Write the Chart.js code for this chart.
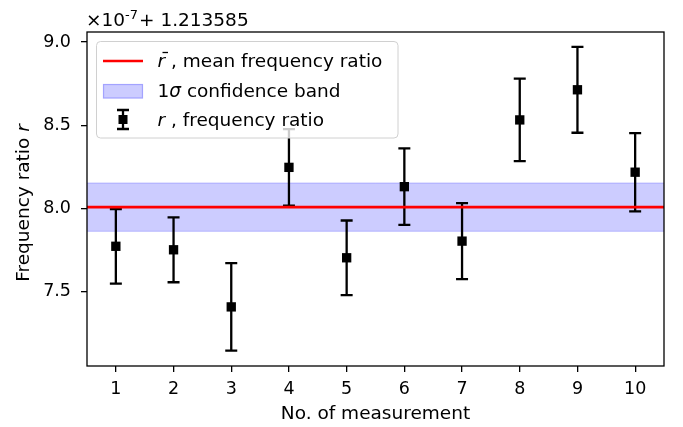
<!DOCTYPE html>
<html>
<head>
<meta charset="utf-8">
<script src="https://cdn.jsdelivr.net/npm/chart.js@4/dist/chart.umd.min.js"></script>
<style>
  html, body { margin: 0; padding: 0; background: #fff; }
  #wrap { width: 683px; height: 427px; position: relative; }
</style>
</head>
<body>
<div id="wrap"><canvas id="ratioChart" width="683" height="427"></canvas></div>
<script>
    // measurement data (offset: x1e-7 + 1.213585)
    const measurements = [1, 2, 3, 4, 5, 6, 7, 8, 9, 10];
    const ratioValues = [7.773, 7.752, 7.409, 8.247, 7.704, 8.131, 7.804, 8.532, 8.713, 8.218];
    const ratioErrors = [0.224, 0.195, 0.263, 0.230, 0.224, 0.230, 0.228, 0.248, 0.258, 0.235];
    const meanRatio = 8.008;
    const bandLow = 7.863;
    const bandHigh = 8.153;
    const xTicks = [1, 2, 3, 4, 5, 6, 7, 8, 9, 10];
    const yTicks = [7.5, 8.0, 8.5, 9.0];
    const xRange = [0.5, 10.5];
    const yRange = [7.054, 9.06];

    const FONT = "'DejaVu Sans', sans-serif";
    const TXT = 18.5;
    const bandFill = 'rgba(0, 0, 255, 0.2)';

    const errorBarPlugin = {
        id: 'errorBars',
        afterDatasetDraw(chart, args) {
            if (args.index !== 2) return; // right after the band
            const { ctx, scales: { x, y } } = chart;
            ctx.save();
            ctx.strokeStyle = '#000';
            ctx.lineWidth = 2.3;
            measurements.forEach((m, i) => {
                const px = x.getPixelForValue(m);
                const top = y.getPixelForValue(ratioValues[i] + ratioErrors[i]);
                const bot = y.getPixelForValue(ratioValues[i] - ratioErrors[i]);
                ctx.beginPath();
                ctx.moveTo(px, top); ctx.lineTo(px, bot);
                ctx.moveTo(px - 6, top); ctx.lineTo(px + 6, top);
                ctx.moveTo(px - 6, bot); ctx.lineTo(px + 6, bot);
                ctx.stroke();
            });
            ctx.restore();
        }
    };

    const framePlugin = {
        id: 'frame',
        afterDatasetsDraw(chart) {
            const { ctx, chartArea: a } = chart;
            ctx.save();
            ctx.strokeStyle = '#000';
            ctx.lineWidth = 1.3;
            ctx.strokeRect(a.left, a.top, a.right - a.left, a.bottom - a.top);
            ctx.restore();
        }
    };

    function drawMixed(ctx, x, y, parts) {
        parts.forEach(([txt, style]) => {
            ctx.font = (style || '') + ' ' + TXT + 'px ' + FONT;
            ctx.fillText(txt, x, y);
            x += ctx.measureText(txt).width;
        });
        return x;
    }

    const textPlugin = {
        id: 'texts',
        afterDraw(chart) {
            const { ctx, chartArea: a } = chart;
            ctx.save();
            ctx.fillStyle = '#000';
            ctx.textBaseline = 'alphabetic';
            ctx.textAlign = 'left';

            // offset label
            let ox = drawMixed(ctx, 86, 26, [['\u00d710', '']]);
            ctx.font = '13px ' + FONT;
            ctx.fillText('-7', ox, 19);
            ox += ctx.measureText('-7').width + 1;
            drawMixed(ctx, ox, 26, [['+ 1.213585', '']]);

            // x title
            ctx.font = TXT + 'px ' + FONT;
            ctx.textAlign = 'center';
            ctx.fillText('No. of measurement', (a.left + a.right) / 2, 419);

            // y title
            ctx.save();
            ctx.translate(29, 203);
            ctx.rotate(-Math.PI / 2);
            ctx.textAlign = 'left';
            ctx.font = TXT + 'px ' + FONT;
            const w1 = ctx.measureText('Frequency ratio ').width;
            ctx.font = 'italic ' + TXT + 'px ' + FONT;
            const w2 = ctx.measureText('r').width;
            drawMixed(ctx, -(w1 + w2) / 2, 0, [['Frequency ratio ', ''], ['r', 'italic']]);
            ctx.restore();

            // legend
            ctx.beginPath();
            ctx.roundRect(96.5, 41.5, 301.5, 96.5, 4);
            ctx.fillStyle = 'rgba(255,255,255,0.8)';
            ctx.fill();
            ctx.strokeStyle = '#d0d0d0';
            ctx.lineWidth = 1;
            ctx.stroke();

            ctx.fillStyle = '#000';
            ctx.textAlign = 'left';
            // mean line
            ctx.strokeStyle = '#ff0000';
            ctx.lineWidth = 2.7;
            ctx.beginPath(); ctx.moveTo(103, 61); ctx.lineTo(143, 61); ctx.stroke();
            let tx = drawMixed(ctx, 157.5, 67, [['r', 'italic']]);
            ctx.strokeStyle = '#000';
            ctx.lineWidth = 1.3;
            ctx.beginPath(); ctx.moveTo(162.5, 52.5); ctx.lineTo(168, 52.5); ctx.stroke();
            drawMixed(ctx, tx, 67, [[' , mean frequency ratio', '']]);

            // band patch
            ctx.fillStyle = bandFill;
            ctx.fillRect(103, 84, 40, 14.5);
            ctx.strokeStyle = bandFill;
            ctx.strokeRect(103.5, 84.5, 39, 13.5);
            ctx.fillStyle = '#000';
            drawMixed(ctx, 157.5, 97, [['1', ''], ['\u03c3', 'italic'], [' confidence band', '']]);

            // errorbar symbol
            ctx.strokeStyle = '#000';
            ctx.lineWidth = 2.3;
            ctx.beginPath();
            ctx.moveTo(123, 110); ctx.lineTo(123, 129);
            ctx.moveTo(117, 110); ctx.lineTo(129, 110);
            ctx.moveTo(117, 129); ctx.lineTo(129, 129);
            ctx.stroke();
            ctx.fillRect(118.5, 115, 9, 9);
            drawMixed(ctx, 157.5, 126, [['r', 'italic'], [' , frequency ratio', '']]);
            ctx.restore();
        }
    };

    const ctx = document.getElementById('ratioChart').getContext('2d');
    new Chart(ctx, {
        type: 'scatter',
        data: {
            datasets: [
                {
                    label: 'r, frequency ratio',
                    data: measurements.map((m, i) => ({ x: m, y: ratioValues[i] })),
                    pointStyle: 'rect',
                    pointRadius: 6.6,
                    backgroundColor: '#000',
                    borderColor: '#000',
                    borderWidth: 0,
                    showLine: false,
                    order: 0
                },
                {
                    label: 'mean frequency ratio',
                    data: xRange.map(v => ({ x: v, y: meanRatio })),
                    showLine: true,
                    borderColor: '#ff0000',
                    borderWidth: 2.7,
                    pointRadius: 0,
                    order: 1
                },
                {
                    label: 'band high',
                    data: xRange.map(v => ({ x: v, y: bandHigh })),
                    showLine: true,
                    borderColor: 'rgba(0, 0, 255, 0.22)',
                    borderWidth: 1,
                    backgroundColor: bandFill,
                    fill: '+1',
                    pointRadius: 0,
                    order: 2
                },
                {
                    label: 'band low',
                    data: xRange.map(v => ({ x: v, y: bandLow })),
                    showLine: true,
                    borderColor: 'rgba(0, 0, 255, 0.22)',
                    borderWidth: 1,
                    pointRadius: 0,
                    order: 3
                }
            ]
        },
        options: {
            responsive: false,
            animation: false,
            layout: { padding: { left: 0, top: 32, right: 19, bottom: 0 } },
            plugins: { legend: { display: false }, tooltip: { enabled: false } },
            scales: {
                x: {
                    type: 'linear',
                    min: xRange[0], max: xRange[1],
                    afterBuildTicks: s => { s.ticks = xTicks.map(v => ({ value: v })); },
                    afterFit: s => { s.height = 61; },
                    border: { display: false },
                    grid: { drawOnChartArea: false, drawTicks: true, tickLength: 6, color: '#000', lineWidth: 1.3 },
                    ticks: { color: '#000', font: { family: FONT, size: 17.5 }, padding: 7, maxRotation: 0, callback: v => String(v) }
                },
                y: {
                    type: 'linear',
                    min: yRange[0], max: yRange[1],
                    afterBuildTicks: s => { s.ticks = yTicks.map(v => ({ value: v })); },
                    afterFit: s => { s.width = 87; },
                    border: { display: false },
                    grid: { drawOnChartArea: false, drawTicks: true, tickLength: 6, color: '#000', lineWidth: 1.3 },
                    ticks: { color: '#000', font: { family: FONT, size: 17.5 }, padding: 10, callback: v => v.toFixed(1) }
                }
            }
        },
        plugins: [errorBarPlugin, framePlugin, textPlugin]
    });
</script>
</body>
</html>
